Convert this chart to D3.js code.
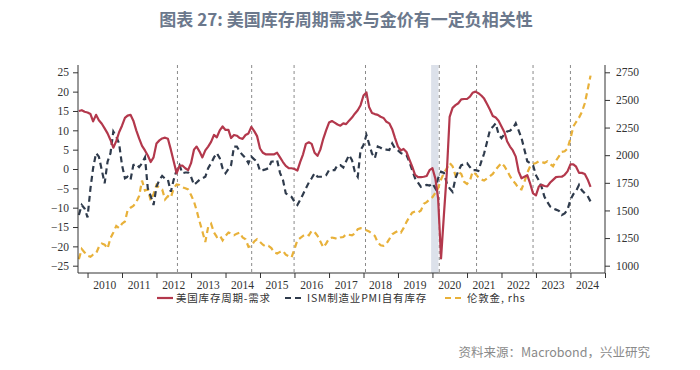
<!DOCTYPE html>
<html>
<head>
<meta charset="utf-8">
<script src="https://cdn.jsdelivr.net/npm/d3@7"></script>
<style>
  body { margin: 0; background: #fff; }
  svg { display: block; }
</style>
</head>
<body>
<script>
// monthly series, Oct 2009 .. Aug 2024
const startMonth = new Date(2009, 9, 1);
const endMonth = new Date(2024, 8, 1);

// 美国库存周期-需求 (lhs)
const demandValues = [
  15.0, 15.2, 14.8, 14.6, 14.2, 12.3, 14.0, 12.6, 11.7, 10.5,
  9.2, 7.5, 5.5, 7.2, 9.5, 11.2, 13.2, 13.8, 14.0, 12.5,
  10.0, 7.9, 6.0, 4.8, 3.5, 1.8, 3.0, 6.6, 7.4, 7.9,
  8.1, 7.8, 5.0, 2.0, -1.1, 0.8, 0.9, 0.2, -0.3, 1.5,
  5.0, 5.8, 4.5, 3.0, 4.8, 5.8, 7.0, 8.8, 8.2, 10.0,
  11.0, 10.1, 10.1, 8.0, 8.8, 8.6, 8.0, 7.8, 8.8, 9.2,
  10.9, 9.8, 8.5, 5.3, 4.2, 3.8, 3.8, 3.8, 3.8, 4.2,
  3.0, 1.8, 0.8, 0.2, 0.2, 0.0, -0.4, 1.8, 3.8, 6.5,
  6.9, 6.5, 4.2, 3.4, 5.0, 7.8, 10.0, 12.0, 12.4, 12.0,
  11.5, 11.2, 11.8, 11.6, 12.5, 13.3, 14.3, 15.2, 16.5, 19.0,
  19.8, 16.0, 14.5, 14.2, 14.0, 13.5, 13.2, 12.2, 11.8, 10.3,
  8.0, 5.8, 4.8, 5.2, 4.4, 2.5, 0.6, -1.5, -2.1, -2.1,
  -2.0, -1.8, -0.3, 0.2, -2.5, -7.6, -23.1, -12.0, -1.0, 13.5,
  15.8, 16.5, 17.0, 18.0, 18.1, 18.1, 18.7, 19.7, 20.0, 19.6,
  19.0, 18.2, 16.8, 15.3, 13.7, 13.3, 12.5, 11.0, 9.5, 7.2,
  5.8, 4.8, 3.2, -0.6, -2.4, -2.0, -1.6, -3.8, -6.3, -6.8,
  -4.5, -4.1, -4.4, -4.5, -3.5, -2.8, -2.1, -2.0, -2.0, -1.5,
  -0.6, 1.2, 1.2, 0.6, -1.0, -1.0, -1.3, -2.7, -4.6
];

// ISM制造业PMI自有库存 (lhs)
const ismValues = [
  -11.9, -9.3, -10.2, -12.5, -5.0, 0.2, 4.1, 3.2, -0.3, -3.7,
  1.9, 4.1, 9.7, 8.4, 6.6, 1.0, -2.4, -2.0, -2.8, 1.0,
  1.3, 0.5, 1.5, 3.0, -5.0, -7.0, -9.3, -4.6, -2.8, -1.8,
  -2.5, -2.8, -5.9, -2.8, -0.3, 1.0, -1.1, -0.9, -0.9, -2.0,
  -4.1, -3.5, -2.8, -2.4, -2.0, 0.2, 1.5, 3.0, 4.1, 2.8,
  0.2, -1.1, 0.0, 1.0, 5.8, 5.8, 4.5, 3.6, 2.8, 1.5,
  3.2, 2.5, 1.9, -0.5, -0.3, -0.1, 0.2, 1.9, 2.0, 2.3,
  -1.0, -2.8, -6.3, -6.8, -7.2, -8.5, -9.3, -8.0, -6.5, -5.0,
  -3.5, -2.4, -1.1, -2.0, -2.0, -2.0, -1.6, -0.3, -0.3, -0.3,
  1.0, 1.0, 0.4, 2.0, 3.6, 2.3, -0.7, -2.0, 4.9, 6.2,
  8.8, 6.5, 4.0, 2.8, 5.8, 5.5, 5.0, 5.0, 4.9, 6.6,
  5.3, 4.8, 4.1, 3.8, 3.6, 1.9, -0.3, -2.4, -3.5, -4.6,
  -4.3, -4.1, -4.3, -3.7, -5.0, -2.4, -0.7, -1.0, -3.7, -5.0,
  -5.9, -2.4, -0.5, 1.0, 1.2, 1.5, 0.5, -0.3, -0.3, -0.5,
  1.9, 4.0, 7.0, 10.1, 10.9, 11.8, 9.0, 8.0, 9.0, 9.7,
  9.9, 10.5, 11.8, 10.0, 8.0, 5.0, 2.0, 1.5, 1.0, -1.6,
  -3.0, -4.6, -7.2, -8.5, -9.7, -10.2, -10.5, -10.8, -11.9, -11.5,
  -10.5, -8.0, -6.5, -5.7, -4.1, -5.5, -6.3, -7.0, -8.4
];

// 伦敦金 (rhs)
const goldValues = [
  1060, 1150, 1120, 1090, 1080, 1100, 1110, 1170, 1200, 1190,
  1155, 1250, 1300, 1360, 1340, 1380, 1400, 1500, 1525, 1540,
  1575, 1630, 1770, 1680, 1690, 1590, 1650, 1730, 1700, 1690,
  1600, 1630, 1615, 1700, 1735, 1730, 1710, 1700, 1690, 1640,
  1580, 1500, 1400, 1310, 1215, 1350, 1380, 1300, 1260, 1275,
  1230, 1270, 1300, 1290, 1275, 1290, 1300, 1255, 1240, 1170,
  1180, 1220, 1240, 1215, 1190, 1175, 1180, 1160, 1120, 1110,
  1125, 1135, 1100, 1085, 1075, 1150, 1230, 1250, 1270, 1285,
  1275, 1315, 1305, 1270, 1220, 1165, 1200, 1245, 1255, 1250,
  1240, 1255, 1260, 1285, 1280, 1275, 1290, 1330, 1340, 1330,
  1320, 1310, 1290, 1270, 1210, 1185, 1180, 1200, 1240, 1285,
  1300, 1315, 1300, 1340, 1395, 1440, 1480, 1490, 1480, 1500,
  1560, 1575, 1600, 1620, 1660, 1700, 1780, 1840, 1880, 1930,
  1900, 1815, 1850, 1830, 1760, 1740, 1770, 1850, 1830, 1800,
  1780, 1770, 1790, 1810, 1830, 1870, 1900, 1930, 1900, 1860,
  1810, 1770, 1740, 1700, 1690, 1760, 1840, 1900, 1920, 1930,
  1945, 1940, 1930, 1945, 1920, 1900, 1950, 1990, 2030, 2035,
  2060, 2150, 2260, 2300, 2340, 2390, 2470, 2590, 2720
];

const yearLabels = ["2010", "2011", "2012", "2013", "2014", "2015", "2016", "2017",
  "2018", "2019", "2020", "2021", "2022", "2023", "2024"];
const leftTicks = [25, 20, 15, 10, 5, 0, -5, -10, -15, -20, -25];
const rightTicks = [2750, 2500, 2250, 2000, 1750, 1500, 1250, 1000];
const eventDates = ["2012-08-10", "2014-10-05", "2015-12-28", "2018-01-22",
  "2020-03-13", "2021-04-12", "2022-12-01", "2024-01-01"];
const recession = ["2019-12-18", "2020-03-04"];

const w = 700;
const h = 370;
const plotTop = 65;
const plotBottom = 273;
const plotLeft = 78;
const plotRight = 605;

const svg = d3.select("body").append("svg").attr("width", w).attr("height", h);

const months = d3.timeMonth.range(startMonth, d3.timeMonth.offset(endMonth, 1));
const parse = d3.timeParse("%Y-%m-%d");

const x = d3.scaleTime()
  .domain([new Date(2009, 8, 22), new Date(2025, 0, 1)])
  .range([plotLeft, plotRight]);
const yL = d3.scaleLinear().domain([-25, 25]).range([265.7, 72.3]);
const yR = d3.scaleLinear().domain([1000, 2750]).range([265.7, 72.3]);

// title
svg.append("text")
  .attr("x", 346)
  .attr("y", 26)
  .attr("text-anchor", "middle")
  .style("font-family", "'Noto Sans CJK SC', sans-serif")
  .style("font-size", "17px")
  .style("font-weight", "bold")
  .style("fill", "#6b788c")
  .text("图表 27: 美国库存周期需求与金价有一定负相关性");

// recession shade
svg.append("rect")
  .attr("x", x(parse(recession[0])))
  .attr("y", plotTop)
  .attr("width", x(parse(recession[1])) - x(parse(recession[0])))
  .attr("height", plotBottom - plotTop)
  .style("fill", "#dce1ea");

// event lines
svg.selectAll("line.event")
  .data(eventDates)
  .enter()
  .append("line")
  .attr("class", "event")
  .attr("x1", d => x(parse(d)))
  .attr("x2", d => x(parse(d)))
  .attr("y1", plotTop)
  .attr("y2", plotBottom)
  .style("stroke", "#8a8a8a")
  .style("stroke-width", 1)
  .style("stroke-dasharray", "3,3");

// series
const lineL = d3.line().x((d, i) => x(months[i])).y(d => yL(d));
const lineR = d3.line().x((d, i) => x(months[i])).y(d => yR(d));

svg.append("path")
  .attr("d", lineR(goldValues))
  .style("fill", "none")
  .style("stroke", "#e8b13a")
  .style("stroke-width", 2.2)
  .style("stroke-dasharray", "6,4");

svg.append("path")
  .attr("d", lineL(ismValues))
  .style("fill", "none")
  .style("stroke", "#2f3b4c")
  .style("stroke-width", 2.2)
  .style("stroke-dasharray", "6,4");

svg.append("path")
  .attr("d", lineL(demandValues))
  .style("fill", "none")
  .style("stroke", "#b3384c")
  .style("stroke-width", 2.2)
  .style("stroke-linejoin", "round");

// axes
const tickFont = function (g) {
  g.selectAll("text")
    .style("font-family", "'Liberation Serif', serif")
    .style("font-size", "11.5px")
    .style("fill", "#333");
  g.selectAll("line").style("stroke", "#333");
  g.select(".domain").remove();
};

svg.append("g")
  .attr("transform", `translate(${plotLeft},0)`)
  .call(d3.axisLeft(yL).tickValues(leftTicks).tickSize(5).tickPadding(4).tickFormat(d3.format("d")))
  .call(tickFont);

svg.append("g")
  .attr("transform", `translate(${plotRight},0)`)
  .call(d3.axisRight(yR).tickValues(rightTicks).tickSize(5).tickPadding(6).tickFormat(d3.format("d")))
  .call(tickFont);

const yearStarts = d3.range(2010, 2026).map(y => new Date(y, 0, 1));
svg.append("g")
  .attr("transform", `translate(0,${plotBottom})`)
  .call(d3.axisBottom(x).tickValues(yearStarts).tickSize(5).tickFormat(""))
  .call(tickFont);

svg.selectAll("text.year")
  .data(yearLabels)
  .enter()
  .append("text")
  .attr("class", "year")
  .attr("x", d => x(new Date(+d, 6, 1)))
  .attr("y", 289)
  .attr("text-anchor", "middle")
  .style("font-family", "'Liberation Serif', serif")
  .style("font-size", "11.5px")
  .style("fill", "#333")
  .text(d => d);

// axis lines
svg.append("line").attr("x1", plotLeft).attr("x2", plotLeft).attr("y1", plotTop).attr("y2", plotBottom)
  .style("stroke", "#333");
svg.append("line").attr("x1", plotRight).attr("x2", plotRight).attr("y1", plotTop).attr("y2", plotBottom)
  .style("stroke", "#333");
svg.append("line").attr("x1", plotLeft).attr("x2", plotRight).attr("y1", plotBottom).attr("y2", plotBottom)
  .style("stroke", "#333");

// legend
const legendItems = [
  { label: "美国库存周期-需求", color: "#b3384c", dash: null, x0: 157, x1: 173 },
  { label: "ISM制造业PMI自有库存", color: "#2f3b4c", dash: "6,4", x0: 285, x1: 304 },
  { label: "伦敦金, rhs", color: "#e8b13a", dash: "6,4", x0: 445, x1: 464 }
];
legendItems.forEach(function (d) {
  svg.append("line")
    .attr("x1", d.x0).attr("x2", d.x1)
    .attr("y1", 298).attr("y2", 298)
    .style("stroke", d.color)
    .style("stroke-width", 2.2)
    .style("stroke-dasharray", d.dash);
  svg.append("text")
    .attr("x", d.x1 + 3)
    .attr("y", 302)
    .style("font-family", "'Noto Sans CJK SC', sans-serif")
    .style("font-size", "10.5px")
    .style("letter-spacing", "0.8px")
    .style("fill", "#333")
    .text(d.label);
});

// source
svg.append("text")
  .attr("x", 650)
  .attr("y", 357)
  .attr("text-anchor", "end")
  .style("font-family", "'Noto Sans CJK SC', sans-serif")
  .style("font-size", "12.5px")
  .style("fill", "#8a8a8a")
  .text("资料来源：Macrobond，兴业研究");
</script>
</body>
</html>
